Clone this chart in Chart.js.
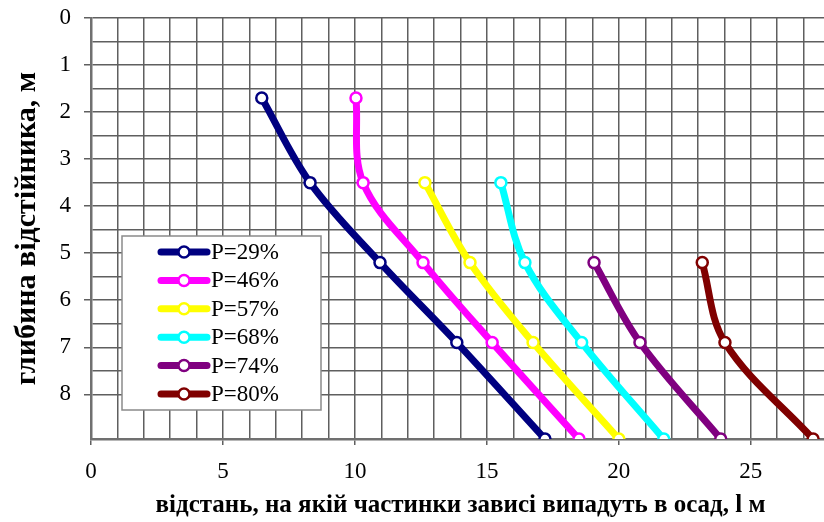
<!DOCTYPE html>
<html lang="uk">
<head>
<meta charset="utf-8">
<title>Глибина відстійника</title>
<script src="https://cdn.jsdelivr.net/npm/chart.js@4/dist/chart.umd.min.js"></script>
<style>
  html, body { margin: 0; padding: 0; background: #fff; overflow: hidden; }
  #wrap { width: 860px; height: 522px; }
</style>
</head>
<body>
<div id="wrap"><canvas id="c" width="860" height="522"></canvas></div>
<script>
// Depth levels (m) at which the particle trajectories are sampled
const depthAll = [1.7, 3.5, 5.2, 6.9, 8.95];
const depthFrom35 = [3.5, 5.2, 6.9, 8.95];
const depthFrom52 = [5.2, 6.9, 8.95];

// Distance (m) at which suspended particles settle, one array per removal efficiency
const seriesLabels = ['P=29%', 'P=46%', 'P=57%', 'P=68%', 'P=74%', 'P=80%'];
const dist29 = [6.47, 8.3, 10.95, 13.86, 17.2];
const dist46 = [10.04, 10.31, 12.58, 15.2, 18.49];
const dist57 = [12.65, 14.36, 16.75, 20.0];
const dist68 = [15.53, 16.44, 18.59, 21.7];
const dist74 = [19.06, 20.8, 23.86];
const dist80 = [23.16, 24.02, 27.36];

// Axis tick values shown as labels
const xTickLabels = [0, 5, 10, 15, 20, 25];
const yTickLabels = [0, 1, 2, 3, 4, 5, 6, 7, 8];

const seriesColors = ['#000080', '#ff00ff', '#ffff00', '#00ffff', '#800080', '#800000'];
const seriesDist = [dist29, dist46, dist57, dist68, dist74, dist80];
const seriesDepth = [depthAll, depthAll, depthFrom35, depthFrom35, depthFrom52, depthFrom52];

const toPoints = (xs, ys) => xs.map((x, i) => ({ x: x, y: ys[i] }));

const datasets = seriesLabels.map((label, i) => ({
  label: label,
  data: toPoints(seriesDist[i], seriesDepth[i]),
  showLine: true,
  borderColor: seriesColors[i],
  backgroundColor: seriesColors[i],
  borderWidth: 7,
  tension: 0.35,
  pointRadius: 5.5,
  pointBorderWidth: 2.5,
  pointBackgroundColor: '#ffffff',
  pointBorderColor: seriesColors[i],
  pointHoverRadius: 5.5
}));

const GRID = '#5f5f5f';
const SERIF = '"Liberation Serif", "Times New Roman", serif';

// Legend box drawn inside the plot area
const insideLegend = {
  id: 'insideLegend',
  afterDatasetsDraw(chart, args, opts) {
    const ctx = chart.ctx;
    ctx.save();
    ctx.fillStyle = '#ffffff';
    ctx.strokeStyle = '#8a8a8a';
    ctx.lineWidth = 1.5;
    ctx.fillRect(opts.left, opts.top, opts.width, opts.height);
    ctx.strokeRect(opts.left, opts.top, opts.width, opts.height);
    chart.data.datasets.forEach((ds, i) => {
      const y = opts.firstRow + i * opts.rowGap;
      ctx.strokeStyle = ds.borderColor;
      ctx.lineWidth = 7;
      ctx.lineCap = 'round';
      ctx.beginPath();
      ctx.moveTo(opts.lineX0, y);
      ctx.lineTo(opts.lineX1, y);
      ctx.stroke();
      ctx.beginPath();
      ctx.arc((opts.lineX0 + opts.lineX1) / 2, y, 5.5, 0, Math.PI * 2);
      ctx.fillStyle = '#ffffff';
      ctx.fill();
      ctx.lineWidth = 2.5;
      ctx.stroke();
      ctx.fillStyle = '#000000';
      ctx.font = '23px ' + SERIF;
      ctx.textAlign = 'left';
      ctx.textBaseline = 'middle';
      ctx.fillText(ds.label, opts.textX, y + 1);
    });
    ctx.restore();
  }
};

new Chart(document.getElementById('c'), {
  type: 'scatter',
  data: { datasets: datasets },
  plugins: [insideLegend],
  options: {
    responsive: false,
    animation: false,
    events: [],
    layout: { padding: { top: 18, right: 30, left: 0, bottom: 0 } },
    plugins: {
      legend: { display: false },
      tooltip: { enabled: false },
      insideLegend: {
        left: 122, top: 236, width: 199, height: 174,
        firstRow: 252, rowGap: 28.4,
        lineX0: 161, lineX1: 207, textX: 211
      }
    },
    scales: {
      x: {
        type: 'linear',
        min: 0,
        max: 28,
        afterFit(scale) { scale.height = 83; },
        ticks: {
          stepSize: 1,
          autoSkip: false,
          maxRotation: 0,
          padding: 13,
          color: '#000',
          font: { family: SERIF, size: 23 },
          callback: v => (xTickLabels.includes(v) ? String(v) : '')
        },
        grid: {
          color: GRID,
          lineWidth: 1.5,
          tickLength: 6,
          tickWidth: 1.5,
          tickColor: ctx => (ctx.tick && xTickLabels.includes(ctx.tick.value) ? GRID : 'rgba(0,0,0,0)')
        },
        border: { color: '#707070', width: 2.5 },
        title: {
          display: true,
          text: 'відстань, на якій частинки зависі випадуть в осад, l м',
          color: '#000',
          font: { family: SERIF, size: 25, weight: 'bold' },
          padding: { top: 0, bottom: 1 }
        }
      },
      y: {
        type: 'linear',
        reverse: true,
        min: 0,
        max: 8.95,
        afterFit(scale) {
          scale.width = 91;
          scale.paddingTop = 0;
          scale.paddingBottom = 0;
        },
        ticks: {
          stepSize: 0.5,
          autoSkip: false,
          padding: 13,
          color: '#000',
          font: { family: SERIF, size: 23 },
          callback: v => (yTickLabels.includes(v) ? String(v) : '')
        },
        grid: {
          color: GRID,
          lineWidth: 1.5,
          tickLength: 7,
          tickWidth: 1.5,
          tickColor: ctx => (ctx.tick && yTickLabels.includes(ctx.tick.value) ? GRID : 'rgba(0,0,0,0)')
        },
        border: { color: '#707070', width: 2.5 },
        title: {
          display: true,
          text: 'глибина відстійника, м',
          color: '#000',
          font: { family: SERIF, size: 30, weight: 'bold' },
          padding: { top: 9, bottom: 0 }
        }
      }
    }
  }
});
</script>
</body>
</html>
